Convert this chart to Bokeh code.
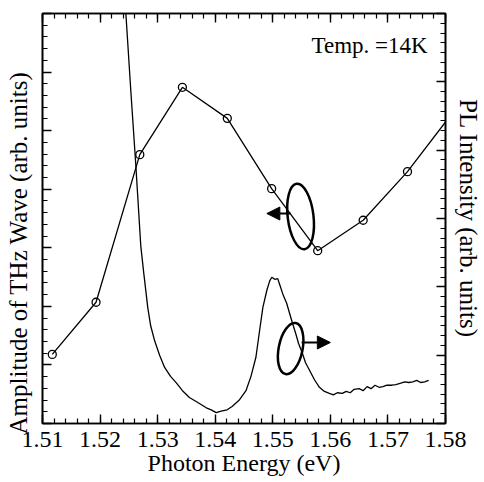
from bokeh.plotting import figure
from bokeh.models import (Range1d, LinearAxis, SingleIntervalTicker, PrintfTickFormatter,
                          Label, Arrow, NormalHead, CustomLabelingPolicy)
from bokeh.embed import file_html
from bokeh.resources import INLINE

# ---- data ----
# THz wave amplitude (left axis, arb. units)
thz_energy = [1.5117, 1.5193, 1.5269, 1.5343, 1.5421, 1.5498, 1.5578, 1.5657, 1.5734, 1.5812]
thz_amp = [1.18, 2.07, 4.59, 5.74, 5.21, 4.01, 2.95, 3.47, 4.30, 5.30]

# PL intensity (right axis, arb. units)
pl_energy = [1.52379, 1.52448, 1.52534, 1.52621, 1.52707, 1.52759, 1.52828, 1.52879, 1.52948,
             1.53034, 1.53121, 1.53224, 1.53328, 1.53431, 1.53552, 1.53690, 1.53845, 1.53931,
             1.54017, 1.54103, 1.54207, 1.54293, 1.54414, 1.54534, 1.54621, 1.54707, 1.54776,
             1.54828, 1.54897, 1.54948, 1.54983, 1.55034, 1.55086, 1.55121, 1.55172, 1.55241,
             1.55293, 1.55345, 1.55397, 1.55448, 1.55517, 1.55569, 1.55638, 1.55724, 1.55810,
             1.55897, 1.55983, 1.56052, 1.56121, 1.56207, 1.56276, 1.56345, 1.56414, 1.56500,
             1.56569, 1.56638, 1.56707, 1.56776, 1.56845, 1.56914, 1.56983, 1.57069, 1.57138,
             1.57224, 1.57293, 1.57362, 1.57431, 1.57500, 1.57569, 1.57638, 1.57707]
pl_int = [6.92, 6.00, 4.87, 3.78, 2.60, 2.20, 1.70, 1.43, 1.21,
          1.00, 0.82, 0.69, 0.59, 0.48, 0.38, 0.31, 0.23, 0.20,
          0.16, 0.18, 0.20, 0.25, 0.34, 0.48, 0.69, 0.97, 1.39,
          1.70, 1.95, 2.09, 2.14, 2.11, 2.12, 2.03, 1.90, 1.76,
          1.61, 1.46, 1.32, 1.17, 1.02, 0.89, 0.78, 0.64, 0.53,
          0.47, 0.44, 0.42, 0.45, 0.44, 0.47, 0.45, 0.50, 0.51,
          0.48, 0.54, 0.51, 0.56, 0.53, 0.54, 0.56, 0.56, 0.57,
          0.59, 0.61, 0.60, 0.61, 0.63, 0.60, 0.61, 0.63]

x_ticks_interval = 0.01
title_x = "Photon Energy (eV)"
title_left = "Amplitude of THz Wave (arb. units)"
title_right = "PL Intensity (arb. units)"
note = "Temp. =14K"

FONT = "Liberation Serif"

p = figure(width=484, height=482, output_backend="svg", toolbar_location=None,
           x_range=Range1d(1.51, 1.58), y_range=Range1d(0, 7),
           min_border_left=42, min_border_right=36, min_border_top=13, min_border_bottom=59,
           x_axis_location=None, y_axis_location=None)
p.extra_y_ranges = {"pl": Range1d(0, 6)}
p.grid.visible = False
p.outline_line_color = "black"
p.outline_line_width = 1.6

hide_all = CustomLabelingPolicy(code="""
    for (let i = 0; i < indices.size; i++) indices.unset(i)
    return indices
""")

def style_axis(ax, show_labels=False):
    ax.axis_line_width = 1.6
    ax.major_tick_in = 9
    ax.major_tick_out = 0
    ax.minor_tick_in = 5
    ax.minor_tick_out = 0
    ax.major_tick_line_width = 1.4
    ax.minor_tick_line_width = 1.2
    ax.major_label_text_font = FONT
    ax.major_label_text_color = "black"
    ax.axis_label_text_font = FONT
    ax.axis_label_text_font_style = "normal"
    ax.axis_label_text_color = "black"
    if show_labels:
        ax.major_label_text_font_size = "24px"
        ax.major_label_standoff = 8
    else:
        ax.major_label_text_font_size = "8px"
        ax.major_label_standoff = 0
        ax.major_label_policy = hide_all

xb = LinearAxis(ticker=SingleIntervalTicker(interval=x_ticks_interval, num_minor_ticks=5),
                formatter=PrintfTickFormatter(format="%.2f"), axis_label=title_x)
style_axis(xb, True)
xb.axis_label_text_font_size = "24px"
xb.axis_label_standoff = 0
p.add_layout(xb, "below")

xt = LinearAxis(ticker=SingleIntervalTicker(interval=x_ticks_interval, num_minor_ticks=5),
                formatter=PrintfTickFormatter(format="%.2f"))
style_axis(xt)
p.add_layout(xt, "above")

# trailing no-break spaces shift the (centred) left title downwards, as in the original
yl = LinearAxis(ticker=SingleIntervalTicker(interval=1, num_minor_ticks=5),
                axis_label=title_left + "\u00a0" * 11)
style_axis(yl)
yl.axis_label_text_font_size = "25px"
yl.axis_label_standoff = 4
p.add_layout(yl, "left")

yr = LinearAxis(y_range_name="pl", ticker=SingleIntervalTicker(interval=1, num_minor_ticks=7),
                axis_label=title_right)
style_axis(yr)
yr.axis_label_text_font_size = "25px"
yr.axis_label_standoff = 2
p.add_layout(yr, "right")

# data
p.line(pl_energy, pl_int, y_range_name="pl", line_color="black", line_width=1.3)
p.line(thz_energy, thz_amp, line_color="black", line_width=1.3)
p.scatter(thz_energy, thz_amp, marker="circle", size=8, fill_color=None,
          line_color="black", line_width=1.3)

# loop + arrow annotations
p.ellipse(x=[1.55483], y=[3.534], width=[0.00448], height=[1.127], angle=[0.12],
          fill_color=None, line_color="black", line_width=2.5)
p.ellipse(x=[1.55310], y=[1.280], width=[0.00414], height=[0.888], angle=[-0.2],
          fill_color=None, line_color="black", line_width=2.5)
p.add_layout(Arrow(end=NormalHead(size=13, fill_color="black", line_color="black"),
                   x_start=1.55310, y_start=3.585, x_end=1.54897, y_end=3.585,
                   line_width=2, line_color="black"))
p.add_layout(Arrow(end=NormalHead(size=13, fill_color="black", line_color="black"),
                   x_start=1.55500, y_start=1.383, x_end=1.56000, y_end=1.383,
                   line_width=2, line_color="black"))

# note
p.add_layout(Label(x=1.55672, y=6.454, text=note, text_font=FONT, text_font_size="23px",
                   text_align="left", text_baseline="alphabetic", text_color="black"))

open("out.html", "w").write(file_html(p, INLINE))
